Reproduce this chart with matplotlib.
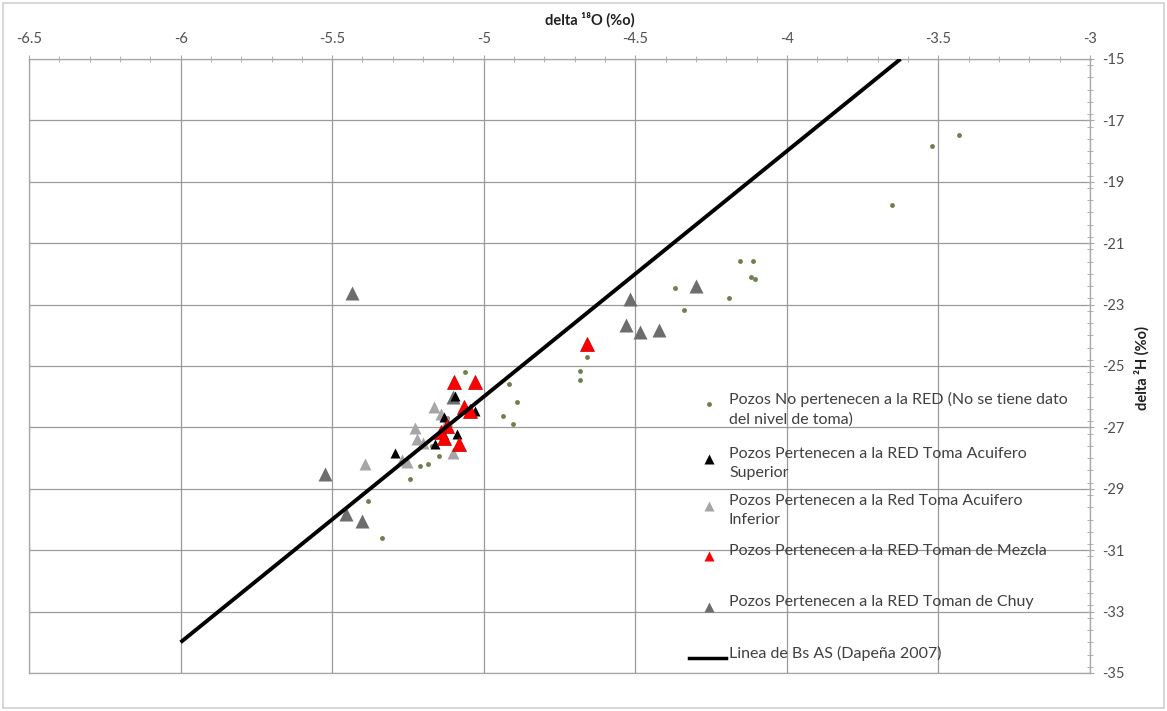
import matplotlib
matplotlib.use('Agg')
import matplotlib.pyplot as plt
import numpy as np
from matplotlib.ticker import FixedLocator, FuncFormatter, MultipleLocator
from matplotlib.patches import Rectangle
from matplotlib.lines import Line2D

plt.rcParams['font.family'] = ['Lato', 'DejaVu Sans']
plt.rcParams['axes.unicode_minus'] = False

# ---------------- data ----------------
no_red_x = [-3.432, -3.522, -3.653, -4.111, -4.153, -4.119, -4.105, -4.370, -4.192, -4.339,
            -4.658, -4.681, -4.681, -5.061, -4.917, -4.890, -4.936, -4.904,
            -5.149, -5.185, -5.210, -5.243, -5.381, -5.337, -5.17, -5.12]
no_red_y = [-17.47, -17.84, -19.76, -21.57, -21.57, -22.11, -22.17, -22.46, -22.78, -23.19,
            -24.70, -25.16, -25.44, -25.21, -25.59, -26.18, -26.62, -26.89,
            -27.94, -28.20, -28.25, -28.69, -29.39, -30.59, -27.60, -26.70]

chuy_x = [-5.434, -5.524, -5.455, -5.403, -4.300, -4.517, -4.532, -4.484, -4.421, -5.10]
chuy_y = [-22.62, -28.52, -29.83, -30.05, -22.41, -22.81, -23.68, -23.89, -23.82, -26.00]

inferior_x = [-5.392, -5.226, -5.221, -5.254, -5.27, -5.165, -5.14, -5.10, -5.12, -5.20]
inferior_y = [-28.20, -27.03, -27.38, -28.14, -28.05, -26.35, -26.55, -27.85, -26.80, -27.50]

superior_x = [-5.292, -5.160, -5.094, -5.028, -5.089, -5.13]
superior_y = [-27.82, -27.55, -25.97, -26.46, -27.22, -26.65]

mezcla_x = [-5.099, -5.028, -5.066, -5.044, -5.121, -5.14, -5.083, -5.13, -4.66]
mezcla_y = [-25.53, -25.53, -26.35, -26.46, -26.95, -27.15, -27.55, -27.35, -24.28]

lmm_x = [-6.0, -3.625]
lmm_y = [-34.0, -15.0]

x_ticks = [-6.5, -6, -5.5, -5, -4.5, -4, -3.5, -3]
y_ticks = [-35, -33, -31, -29, -27, -25, -23, -21, -19, -17, -15]

labels = ["Pozos No pertenecen a la RED (No se tiene dato\ndel nivel de toma)",
          "Pozos Pertenecen a la RED Toma Acuifero\nSuperior",
          "Pozos Pertenecen a la Red Toma Acuifero\nInferior",
          "Pozos Pertenecen a la RED Toman de Mezcla",
          "Pozos Pertenecen a la RED Toman de Chuy",
          "Linea de Bs AS (Dapeña 2007)"]

# ---------------- figure ----------------
W, H = 1167, 711
fig = plt.figure(figsize=(W / 100, H / 100), dpi=100)
fig.patches.append(Rectangle((3 / W, 3 / H), 1 - 6 / W, 1 - 6 / H, transform=fig.transFigure,
                             fill=False, edgecolor='#d0d0d0', lw=1.2))

L, R, T, B = 29, 1090, 59, 673
ax = fig.add_axes([L / W, 1 - B / H, (R - L) / W, (B - T) / H])
ax.set_xlim(-6.5, -3)
ax.set_ylim(-35, -15)

grey = '#a6a6a6'
ax.xaxis.tick_top()
ax.yaxis.tick_right()
ax.xaxis.set_major_locator(FixedLocator(x_ticks))
ax.yaxis.set_major_locator(FixedLocator(y_ticks))
ax.xaxis.set_minor_locator(MultipleLocator(0.1))
ax.yaxis.set_minor_locator(MultipleLocator(0.4))
fmt = FuncFormatter(lambda v, p: '%g' % v)
ax.xaxis.set_major_formatter(fmt)
ax.yaxis.set_major_formatter(fmt)
ax.grid(which='major', color='#9a9a9a', lw=0.9)
ax.tick_params(which='major', direction='inout', length=6, color=grey, labelcolor='#505050',
               labelsize=10.5, pad=6)
ax.tick_params(which='minor', direction='inout', length=4, color=grey)
for s in ax.spines.values():
    s.set_color(grey)
    s.set_linewidth(0.9)
ax.set_axisbelow(True)

ax.set_xlabel('delta ¹⁸O (%o)', fontweight='bold', fontsize=10.5, color='#202020')
ax.xaxis.label.set_va('center')
ax.xaxis.set_label_coords((590 - L) / (R - L), (B - 20) / (B - T))
ax.set_ylabel('delta ²H (%o)', fontweight='bold', fontsize=10.5, color='#202020', rotation=90)
ax.yaxis.label.set_ha('center')
ax.yaxis.set_label_coords((1150 - L) / (R - L), (B - 368) / (B - T))

# ---------------- series ----------------
ax.plot(no_red_x, no_red_y, 'o', ms=3.5, color='#6e8050', mec='none', zorder=3)
ax.plot(chuy_x, chuy_y, '^', ms=10, color='#6d6d6d', mec='none', zorder=3)
ax.plot(inferior_x, inferior_y, '^', ms=8.5, color='#a6a6a6', mec='none', zorder=3.1)
ax.plot(superior_x, superior_y, '^', ms=7.5, color='black', mec='none', zorder=3.2)
ax.plot(mezcla_x, mezcla_y, '^', ms=10, color='#ff0000', mec='#c00000', mew=0.5, zorder=3.3)
ax.plot(lmm_x, lmm_y, '-', color='black', lw=2.8, zorder=4, solid_capstyle='butt')

# ---------------- legend (manual, Excel-like layout) ----------------
def fx(px):
    return (px - L) / (R - L)

def fy(py):
    return (B - py) / (B - T)

entry_y = [404, 459, 506, 556, 607, 658]
styles = [dict(marker='o', ms=3.5, color='#6e8050'),
          dict(marker='^', ms=6.5, color='black'),
          dict(marker='^', ms=6.5, color='#a6a6a6'),
          dict(marker='^', ms=7, color='#ff0000'),
          dict(marker='^', ms=7, color='#6d6d6d'),
          None]
for lab, st, py in zip(labels, styles, entry_y):
    if st is None:
        ax.add_line(Line2D([fx(689), fx(726)], [fy(py), fy(py)], transform=ax.transAxes,
                           color='black', lw=2.5, clip_on=False, zorder=5))
    else:
        ax.plot([fx(709)], [fy(py)], linestyle='none', mec='none', transform=ax.transAxes,
                clip_on=False, zorder=5, **st)
    ax.text(fx(729), fy(py - 12), lab, transform=ax.transAxes, va='top', ha='left',
            fontsize=11.5, color='#404040', linespacing=1.45, zorder=5)

fig.savefig('out.png', dpi=100)
